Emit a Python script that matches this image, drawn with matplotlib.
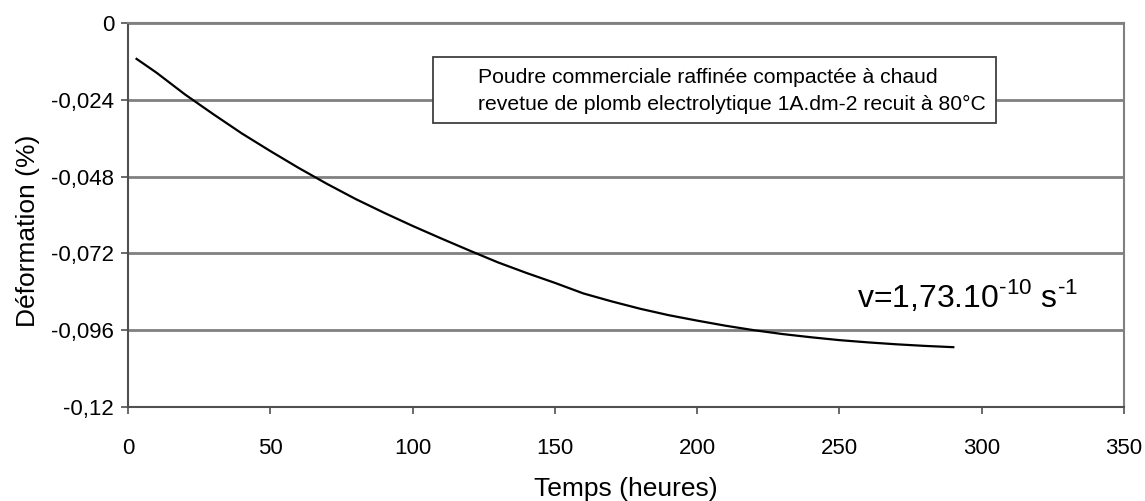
import matplotlib
matplotlib.use("Agg")
import matplotlib.pyplot as plt
import matplotlib.patches as patches

plt.rcParams['font.family'] = ['Liberation Sans', 'DejaVu Sans']
plt.rcParams['mathtext.fontset'] = 'custom'
plt.rcParams['mathtext.rm'] = 'Liberation Sans'

# creep curve, time in hours vs strain in %
temps = [3, 10, 20, 30, 40, 50, 60, 70, 80, 90, 100, 110, 120, 130, 140,
         150, 160, 170, 180, 190, 200, 210, 220, 230, 240, 250, 260, 270,
         280, 290]
deformation = [-0.0112, -0.0155, -0.0223, -0.0285, -0.0345, -0.0400,
               -0.0453, -0.0503, -0.0550, -0.0593, -0.0634, -0.0673,
               -0.0711, -0.0748, -0.0781, -0.0812, -0.0845, -0.0870,
               -0.0893, -0.0913, -0.0930, -0.0946, -0.0960, -0.0972,
               -0.0982, -0.0991, -0.0998, -0.1004, -0.1009, -0.1013]

x_ticks = [0, 50, 100, 150, 200, 250, 300, 350]
y_ticks = [0, -0.024, -0.048, -0.072, -0.096, -0.12]
y_labels = ['0', '-0,024', '-0,048', '-0,072', '-0,096', '-0,12']

legend_text = ("Poudre commerciale raffinée compactée à chaud\n"
               "revetue de plomb electrolytique 1A.dm-2 recuit à 80°C")
rate_text = r'v=1,73.10$^{\text{-10}}$ s$^{\text{-1}}$'

fig = plt.figure(figsize=(11.45, 5.01), dpi=100)
ax = fig.add_axes([0.1118, 0.1876, 0.8699, 0.7664])

ax.plot(temps, deformation, color='black', linewidth=1.6)

ax.set_xlim(0, 350)
ax.set_ylim(-0.12, 0)
ax.set_xticks(x_ticks)
ax.set_xticklabels([str(t) for t in x_ticks])
ax.set_yticks(y_ticks)
ax.set_yticklabels(y_labels)

ax.grid(True, axis='y', color='#808080', linewidth=2)
ax.set_axisbelow(True)
for side in ['left', 'bottom']:
    ax.spines[side].set_color('#505050')
    ax.spines[side].set_linewidth(1.5)
for side in ['top', 'right']:
    ax.spines[side].set_color('#808080')
    ax.spines[side].set_linewidth(1.5)

ax.tick_params(axis='both', direction='out', length=5, width=1.2,
               color='#505050', labelsize=16)
ax.tick_params(axis='x', pad=17)
ax.tick_params(axis='y', pad=5)

ax.set_xlabel('Temps (heures)', fontsize=19, labelpad=13)
ax.set_ylabel('Déformation (%)', fontsize=19)
ax.yaxis.set_label_coords(-0.088, 0.458)

# boxed description of the sample
box = patches.Rectangle((0.306, 0.7396), 0.5655, 0.172, transform=ax.transAxes,
                        facecolor='white', edgecolor='#404040', linewidth=1.3,
                        zorder=3)
ax.add_patch(box)
ax.text(0.3514, 0.823, legend_text, transform=ax.transAxes, fontsize=15.2,
        ha='left', va='center', linespacing=1.55, zorder=4)

ax.text(0.7314, 0.289, rate_text, transform=ax.transAxes, fontsize=23,
        ha='left', va='center')

fig.savefig('out.png', dpi=100)
